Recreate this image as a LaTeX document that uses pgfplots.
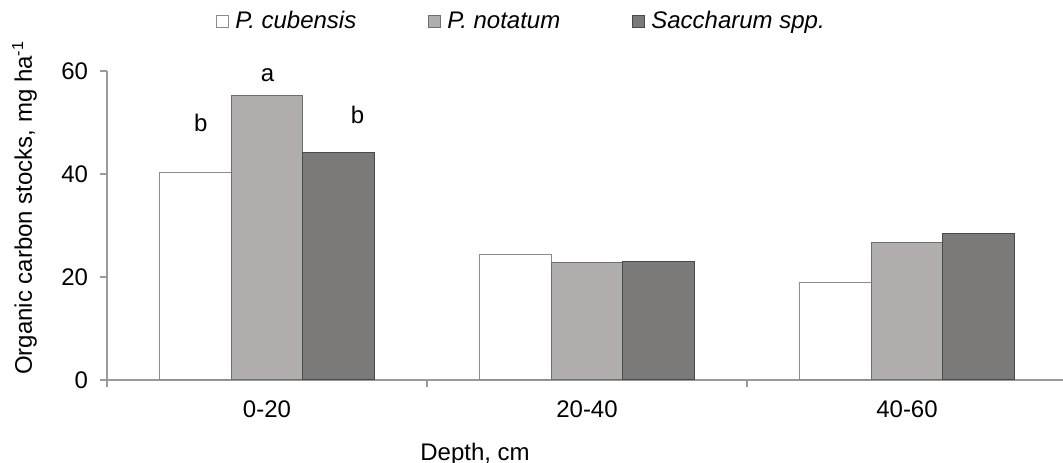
\documentclass[border=0pt]{standalone}
\usepackage{pgfplots}
\pgfplotsset{compat=1.18}
\usepackage{fontspec}
\setmainfont{Liberation Sans}
\definecolor{axgray}{HTML}{9A9A9A}
\definecolor{fillA}{HTML}{FFFFFF}
\definecolor{edgeA}{HTML}{8C8C8C}
\definecolor{fillB}{HTML}{B0ADAC}
\definecolor{edgeB}{HTML}{6E6E6E}
\definecolor{fillC}{HTML}{7B7A78}
\definecolor{edgeC}{HTML}{4A4A4A}
\pgfplotsset{sqlegend/.style={legend image code/.code={\draw[##1, line width=0.5pt] (0pt,-3pt) rectangle (6pt,3pt);}}}
\begin{document}
\fontsize{12pt}{14.4pt}\selectfont
\begin{tikzpicture}
\begin{axis}[
  scale only axis, width=478pt, height=154.5pt,
  xmin=-0.5, xmax=2.4875, ymin=0, ymax=60, clip=false,
  axis x line*=bottom, axis y line*=left,
  axis line style={draw=axgray, line width=0.6pt, -},
  tick style={draw=axgray, line width=0.6pt},
  tick align=outside, major tick length=3.5pt,
  ybar, bar width=0.223,
  xtick={-0.5,0.5,1.5}, xticklabels={},
  extra x ticks={0,1,2}, extra x tick labels={0-20,20-40,40-60},
  extra x tick style={major tick length=0pt, xticklabel style={yshift=-6pt}},
  ytick={0,20,40,60},
  /pgf/number format/assume math mode=true,
  yticklabel style={xshift=-1.8pt},
  xlabel={Depth, cm},
  xlabel style={at={(rel axis cs:0.385,-0.259)}, anchor=base},
  ylabel={Organic carbon stocks, mg ha\textsuperscript{-1}},
  ylabel style={at={(rel axis cs:-0.0785,0.557)}, anchor=base},
  legend columns=3,
  legend style={at={(rel axis cs:0.114,1.159)}, anchor=west, draw=none, fill=none,
    inner sep=0pt, nodes={inner sep=1pt},
    /tikz/every odd column/.append style={column sep=2pt},
    /tikz/every even column/.append style={column sep=35pt}},
]
\addplot[fill=fillA, draw=edgeA, line width=0.5pt, bar shift=-0.223, sqlegend]
  coordinates {(0,40.3) (1,24.4) (2,19.0)};
\addlegendentry{\textit{P. cubensis}}
\addplot[fill=fillB, draw=edgeB, line width=0.5pt, bar shift=0, sqlegend]
  coordinates {(0,55.3) (1,22.9) (2,26.7)};
\addlegendentry{\textit{P. notatum}}
\addplot[fill=fillC, draw=edgeC, line width=0.5pt, bar shift=0.223, sqlegend]
  coordinates {(0,44.2) (1,22.95) (2,28.4)};
\addlegendentry{\textit{Saccharum spp.}}
\node[anchor=base] at (axis cs:-0.207,48.2) {b};
\node[anchor=base] at (axis cs:0.002,57.9) {a};
\node[anchor=base] at (axis cs:0.283,49.9) {b};
\coordinate (O) at (rel axis cs:0,0);
\coordinate (T) at (rel axis cs:1,1);
\end{axis}
\pgfresetboundingbox
\path[use as bounding box] ([shift={(-53.5pt,-41.5pt)}]O) rectangle ([shift={(0pt,35.5pt)}]T);
\end{tikzpicture}
\end{document}
